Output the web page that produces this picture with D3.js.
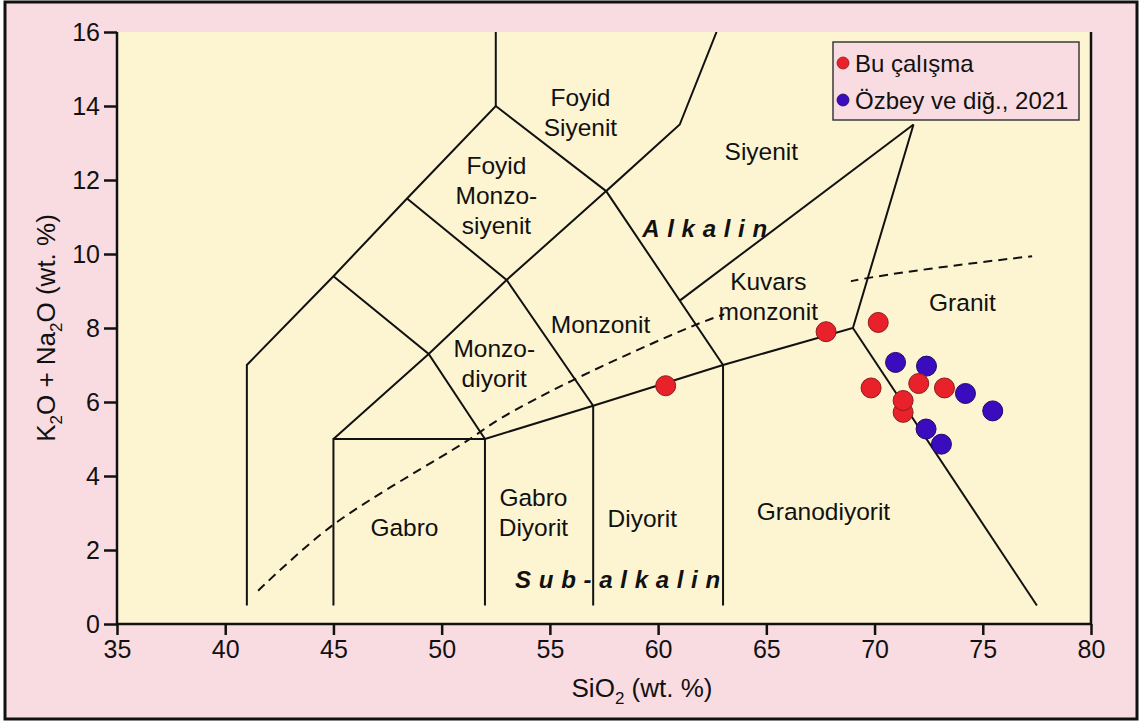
<!DOCTYPE html>
<html>
<head>
<meta charset="utf-8">
<script src="https://cdn.jsdelivr.net/npm/d3@7"></script>
<style>
  html, body { margin: 0; padding: 0; background: #ffffff; }
  svg { display: block; font-family: Arial, "Liberation Sans", sans-serif; }
</style>
</head>
<body>
<svg id="chart" width="1140" height="722"></svg>
<script>
// ---- Axis ticks ----
const xTicks = [35, 40, 45, 50, 55, 60, 65, 70, 75, 80];
const yTicks = [0, 2, 4, 6, 8, 10, 12, 14, 16];

// ---- Sample analyses: [SiO2, Na2O + K2O] ----
const buCalismaLabel = "Bu çalışma";
const buCalisma = [
  [60.35, 6.44], [67.76, 7.90], [70.17, 8.15], [69.84, 6.38],
  [72.04, 6.50], [73.23, 6.38], [71.32, 5.72], [71.32, 6.04]
];
const ozbeyLabel = "Özbey ve diğ., 2021";
const ozbey = [
  [70.97, 7.07], [72.40, 6.97], [74.20, 6.23],
  [75.46, 5.76], [72.38, 5.27], [73.09, 4.86]
];

// ---- TAS field boundaries (plutonic rocks) ----
const fieldBoundaries = [
  [[41, 0.5], [41, 7], [45, 9.4], [48.4, 11.5], [52.5, 14], [57.6, 11.7], [61, 13.5], [62.7, 16]],
  [[52.5, 14], [52.5, 16]],
  [[45, 0.5], [45, 5], [52, 5], [57, 5.9], [63, 7], [69, 8], [71.8, 13.5]],
  [[45, 5], [49.4, 7.3], [53, 9.3], [57.6, 11.7]],
  [[45, 9.4], [49.4, 7.3], [52, 5], [52, 0.5]],
  [[48.4, 11.5], [53, 9.3], [57, 5.9], [57, 0.5]],
  [[57.6, 11.7], [63, 7], [63, 0.5]],
  [[61, 8.74], [71.8, 13.5]],
  [[69, 8], [77.5, 0.5]]
];

// Alkaline / sub-alkaline divide
const alkalineDivide = [
  [41.52, 0.90], [44.94, 2.66], [51.17, 4.95], [52.71, 5.55], [56.03, 6.58],
  [61.63, 8.06], [63.34, 8.42], [69.03, 9.28], [77.28, 9.94]
];

// Field names: [lines, SiO2, alkali] (block centre)
const fieldNames = [
  [["Foyid", "Siyenit"], 56.41, 13.82],
  [["Siyenit"], 64.77, 12.79],
  [["Foyid", "Monzo-", "siyenit"], 52.53, 11.58],
  [["Kuvars", "monzonit"], 65.09, 8.87],
  [["Granit"], 74.06, 8.69],
  [["Monzonit"], 57.34, 8.09],
  [["Monzo-", "diyorit"], 52.43, 7.04],
  [["Gabro"], 48.28, 2.63],
  [["Gabro", "Diyorit"], 54.24, 3.03],
  [["Diyorit"], 59.27, 2.85],
  [["Granodiyorit"], 67.64, 3.06]
];
const seriesNames = [
  ["Alkalin", 62.15, 10.68],
  ["Sub-alkalin", 58.13, 1.22]
];

// ---- Layout ----
const svg = d3.select("#chart");
const W = 1140, H = 722;
const plot = { left: 117, right: 1091, top: 32, bottom: 624 };

const x = d3.scaleLinear().domain([35, 80]).range([plot.left, plot.right]);
const y = d3.scaleLinear().domain([0, 16]).range([plot.bottom, plot.top]);

const PINK = "#f9dce1";
const CREAM = "#fdf5d2";
const INK = "#111111";

// Page background and frame
svg.append("rect").attr("x", 0).attr("y", 0).attr("width", W).attr("height", H).attr("fill", "#ffffff");
svg.append("rect").attr("x", 5).attr("y", 2).attr("width", 1132).attr("height", 717)
  .attr("fill", PINK).attr("stroke", INK).attr("stroke-width", 3);

// Plot area
svg.append("rect")
  .attr("x", plot.left).attr("y", plot.top)
  .attr("width", plot.right - plot.left).attr("height", plot.bottom - plot.top)
  .attr("fill", CREAM);

svg.append("defs").append("clipPath").attr("id", "plotClip")
  .append("rect")
  .attr("x", plot.left).attr("y", plot.top)
  .attr("width", plot.right - plot.left).attr("height", plot.bottom - plot.top);

const g = svg.append("g").attr("clip-path", "url(#plotClip)");

// Alkaline divide (dashed)
const curve = d3.line().curve(d3.curveCatmullRom.alpha(0.5))
  .x(d => x(d[0])).y(d => y(d[1]));
g.append("path")
  .attr("d", curve(alkalineDivide))
  .attr("fill", "none").attr("stroke", INK).attr("stroke-width", 2)
  .attr("stroke-dasharray", "9,6");

// The divide is interrupted behind the quartz monzonite label
const labelFont = 24.5;
const lineGap = 30;
const qm = fieldNames.find(f => f[0][1] === "monzonit");
g.append("rect")
  .attr("x", x(qm[1]) - 44).attr("y", y(qm[2]) - 26)
  .attr("width", x(69) - 2 - (x(qm[1]) - 44)).attr("height", 54)
  .attr("fill", CREAM);

// Field boundaries
const straight = d3.line().x(d => x(d[0])).y(d => y(d[1]));
g.selectAll("path.field").data(fieldBoundaries).join("path")
  .attr("class", "field")
  .attr("d", d => straight(d))
  .attr("fill", "none").attr("stroke", INK).attr("stroke-width", 2)
  .attr("stroke-linejoin", "miter");

// Field names
fieldNames.forEach(([lines, sx, sy]) => {
  const cy = y(sy);
  const t = g.append("text")
    .attr("text-anchor", "middle")
    .attr("font-size", labelFont)
    .attr("fill", INK);
  lines.forEach((s, i) => {
    const yy = cy + (i - (lines.length - 1) / 2) * lineGap + labelFont * 0.36;
    t.append("tspan").attr("x", x(sx)).attr("y", yy).text(s);
  });
});

// Series names (bold italic, spaced)
const spacing = 7.7;
seriesNames.forEach(([s, sx, sy]) => {
  g.append("text")
    .attr("x", x(sx) + spacing / 2)
    .attr("y", y(sy) + 24 * 0.36)
    .attr("text-anchor", "middle")
    .attr("font-size", 24)
    .attr("font-weight", "bold")
    .attr("font-style", "italic")
    .attr("letter-spacing", spacing)
    .attr("fill", INK)
    .text(s);
});

// Sample points
const RED = "#e8212b", RED_EDGE = "#8c1c1c";
const BLUE = "#3a0cbd", BLUE_EDGE = "#1c0a66";
const R = 10;
g.selectAll("circle.ozbey").data(ozbey).join("circle")
  .attr("class", "ozbey")
  .attr("cx", d => x(d[0])).attr("cy", d => y(d[1])).attr("r", R)
  .attr("fill", BLUE).attr("stroke", BLUE_EDGE).attr("stroke-width", 1);
g.selectAll("circle.bu").data(buCalisma).join("circle")
  .attr("class", "bu")
  .attr("cx", d => x(d[0])).attr("cy", d => y(d[1])).attr("r", R)
  .attr("fill", RED).attr("stroke", RED_EDGE).attr("stroke-width", 1);

// Axes
const xAxis = d3.axisBottom(x).tickValues(xTicks).tickSize(11).tickPadding(5).tickFormat(d3.format("d"));
const yAxis = d3.axisLeft(y).tickValues(yTicks).tickSize(13).tickPadding(4).tickFormat(d3.format("d"));

const gx = svg.append("g").attr("transform", `translate(0,${plot.bottom})`).call(xAxis);
const gy = svg.append("g").attr("transform", `translate(${plot.left},0)`).call(yAxis);
[gx, gy].forEach(a => {
  a.select(".domain").remove();
  a.selectAll(".tick line").attr("stroke", INK).attr("stroke-width", 2.5);
  a.selectAll(".tick text").attr("fill", INK).attr("font-size", 25)
    .attr("font-family", "Arial, 'Liberation Sans', sans-serif");
});

// Axis lines (left, bottom, right)
svg.append("path")
  .attr("d", `M${plot.left},${plot.top}V${plot.bottom}H${plot.right}V${plot.top}`)
  .attr("fill", "none").attr("stroke", INK).attr("stroke-width", 2.5);

// Axis titles
const xt = svg.append("text")
  .attr("x", 642).attr("y", 697)
  .attr("text-anchor", "middle").attr("font-size", 26).attr("fill", INK);
xt.append("tspan").text("SiO");
xt.append("tspan").attr("font-size", 17).attr("dy", 7).text("2");
xt.append("tspan").attr("dy", -7).text(" (wt. %)");

const yt = svg.append("text")
  .attr("transform", `translate(55,${(plot.top + plot.bottom) / 2}) rotate(-90)`)
  .attr("text-anchor", "middle").attr("font-size", 26).attr("fill", INK);
yt.append("tspan").text("K");
yt.append("tspan").attr("font-size", 17).attr("dy", 7).text("2");
yt.append("tspan").attr("dy", -7).text("O + Na");
yt.append("tspan").attr("font-size", 17).attr("dy", 7).text("2");
yt.append("tspan").attr("dy", -7).text("O (wt. %)");

// Legend
const lg = svg.append("g");
lg.append("rect").attr("x", 833).attr("y", 42).attr("width", 246).attr("height", 78)
  .attr("fill", PINK).attr("stroke", "#3a3a3a").attr("stroke-width", 1.5);
const legendItems = [[buCalismaLabel, RED, RED_EDGE], [ozbeyLabel, BLUE, BLUE_EDGE]];
legendItems.forEach(([name, fill, edge], i) => {
  const cy = 63 + i * 37;
  lg.append("circle").attr("cx", 843).attr("cy", cy).attr("r", 6)
    .attr("fill", fill).attr("stroke", edge).attr("stroke-width", 0.8);
  lg.append("text").attr("x", 855).attr("y", cy + 8.5)
    .attr("font-size", 24).attr("fill", INK).text(name);
});
</script>
</body>
</html>
